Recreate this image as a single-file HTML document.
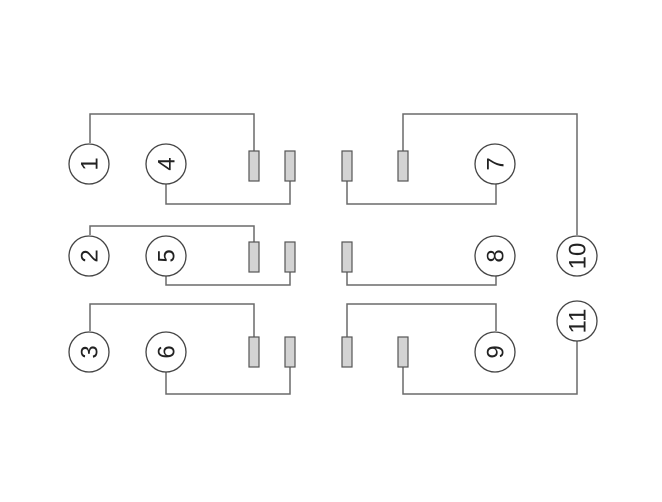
<!DOCTYPE html>
<html><head><style>body{margin:0;background:#fff}svg{display:block}</style></head>
<body>
<svg width="662" height="502" viewBox="0 0 662 502" xmlns="http://www.w3.org/2000/svg">
<g fill="none" stroke="#6a6a6a" stroke-width="1.5">
<polyline points="90,143 90,114 254,114 254,151"/>
<polyline points="166,184 166,204 290,204 290,181"/>
<polyline points="90,235 90,226 254,226 254,242"/>
<polyline points="166,276 166,285 290,285 290,272"/>
<polyline points="90,331 90,304 254,304 254,337"/>
<polyline points="166,372 166,394 290,394 290,367"/>
<polyline points="403,151 403,114 577,114 577,235"/>
<polyline points="347,181 347,204 496,204 496,184"/>
<polyline points="347,272 347,285 496,285 496,276"/>
<polyline points="347,337 347,304 496,304 496,331"/>
<polyline points="403,367 403,394 577,394 577,341"/>
</g>
<g fill="#d3d3d3" stroke="#555" stroke-width="1.2">
<rect x="249" y="151" width="10" height="30"/><rect x="285" y="151" width="10" height="30"/>
<rect x="249" y="242" width="10" height="30"/><rect x="285" y="242" width="10" height="30"/>
<rect x="249" y="337" width="10" height="30"/><rect x="285" y="337" width="10" height="30"/>
<rect x="342" y="151" width="10" height="30"/><rect x="398" y="151" width="10" height="30"/>
<rect x="342" y="242" width="10" height="30"/>
<rect x="342" y="337" width="10" height="30"/><rect x="398" y="337" width="10" height="30"/>
</g>
<g fill="#fff" stroke="#444" stroke-width="1.3">
<circle cx="89" cy="164" r="20"/><circle cx="166" cy="164" r="20"/><circle cx="495" cy="164" r="20"/>
<circle cx="89" cy="256" r="20"/><circle cx="166" cy="256" r="20"/><circle cx="495" cy="256" r="20"/><circle cx="577" cy="256" r="20"/>
<circle cx="89" cy="352" r="20"/><circle cx="166" cy="352" r="20"/><circle cx="495" cy="352" r="20"/><circle cx="577" cy="321" r="20"/>
</g>
<g font-family="Liberation Sans, sans-serif" font-size="24" fill="#222" text-anchor="middle">
<text transform="translate(89,164) rotate(-90)" y="8.5">1</text>
<text transform="translate(166,164) rotate(-90)" y="8.5">4</text>
<text transform="translate(495,164) rotate(-90)" y="8.5">7</text>
<text transform="translate(89,256) rotate(-90)" y="8.5">2</text>
<text transform="translate(166,256) rotate(-90)" y="8.5">5</text>
<text transform="translate(495,256) rotate(-90)" y="8.5">8</text>
<text transform="translate(577,256) rotate(-90)" y="8.5">10</text>
<text transform="translate(89,352) rotate(-90)" y="8.5">3</text>
<text transform="translate(166,352) rotate(-90)" y="8.5">6</text>
<text transform="translate(495,352) rotate(-90)" y="8.5">9</text>
<text transform="translate(577,321) rotate(-90)" y="8.5">11</text>
</g>
</svg>
</body></html>
